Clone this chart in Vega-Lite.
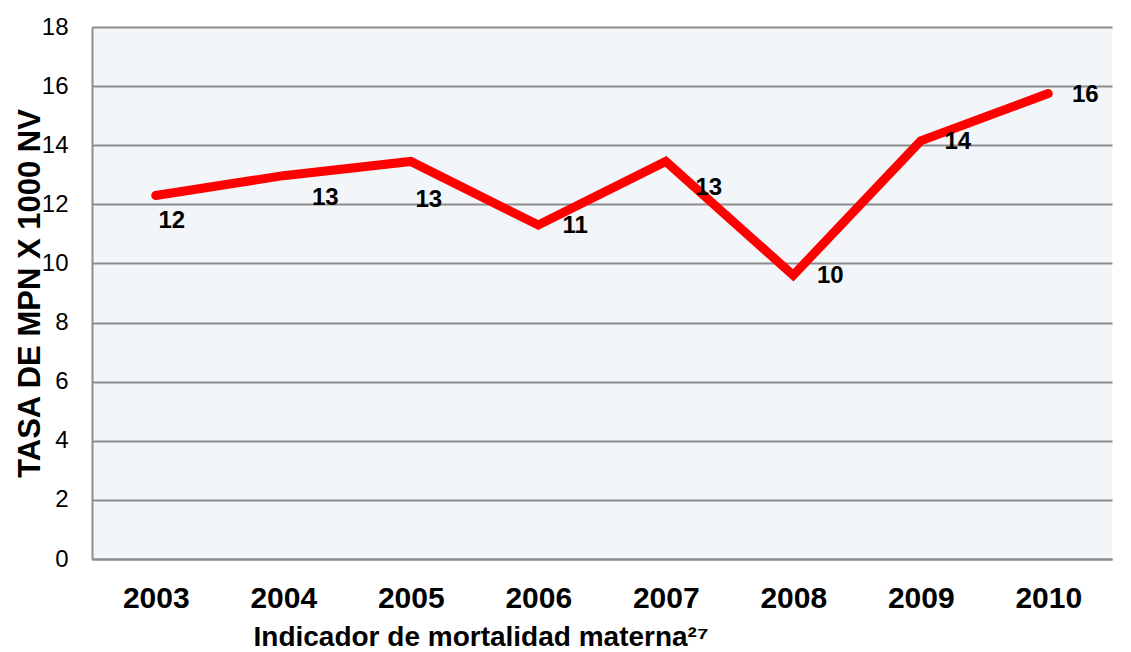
{
  "$schema": "https://vega.github.io/schema/vega-lite/v6.json",
  "width": 1020,
  "height": 532,
  "autosize": {"type": "none"},
  "padding": {"left": 92, "top": 27, "right": 19, "bottom": 93},
  "background": "white",
  "config": {
    "view": {"stroke": null, "fill": "#F2F6F9"},
    "font": "Liberation Sans"
  },
  "data": {
    "values": [
      {"anio": "2003", "tasa": 12.3},
      {"anio": "2004", "tasa": 12.97},
      {"anio": "2005", "tasa": 13.45},
      {"anio": "2006", "tasa": 11.3},
      {"anio": "2007", "tasa": 13.45},
      {"anio": "2008", "tasa": 9.6},
      {"anio": "2009", "tasa": 14.15},
      {"anio": "2010", "tasa": 15.75}
    ]
  },
  "encoding": {
    "x": {
      "field": "anio",
      "type": "ordinal",
      "scale": {"type": "point", "padding": 0.5},
      "axis": {
        "title": "Indicador de mortalidad materna²⁷",
        "labelAngle": 0,
        "labelFont": "Liberation Sans",
        "labelFontSize": 30,
        "labelFontWeight": "bold",
        "labelColor": "black",
        "labelBaseline": "alphabetic",
        "labelPadding": 48,
        "ticks": false,
        "tickSize": 0,
        "domainColor": "#8C8C8C",
        "domainWidth": 2,
        "grid": false,
        "titleX": 161,
        "titleY": 86,
        "titleAlign": "left",
        "titleAnchor": null,
        "titleBaseline": "alphabetic",
        "titleFont": "Liberation Sans",
        "titleFontSize": 28,
        "titleFontWeight": "bold",
        "titleColor": "black"
      }
    },
    "y": {
      "field": "tasa",
      "type": "quantitative",
      "scale": {"domain": [0, 18], "nice": false},
      "axis": {
        "title": "TASA DE MPN X 1000 NV",
        "values": [0, 2, 4, 6, 8, 10, 12, 14, 16, 18],
        "labelFont": "Liberation Sans",
        "labelFontSize": 24,
        "labelColor": "black",
        "labelPadding": 24,
        "labelFlush": false,
        "labelOverlap": false,
        "ticks": false,
        "tickSize": 0,
        "domainColor": "#8C8C8C",
        "domainWidth": 2,
        "gridColor": "#8C8C8C",
        "gridWidth": 2,
        "titleX": -62,
        "titleY": 266,
        "titleAngle": -90,
        "titleAlign": "center",
        "titleAnchor": null,
        "titleBaseline": "middle",
        "titleFont": "Liberation Sans",
        "titleFontSize": 31,
        "titleFontWeight": "bold",
        "titleColor": "black"
      }
    }
  },
  "layer": [
    {
      "mark": {"type": "line", "color": "#FF0000", "strokeWidth": 9, "strokeCap": "round", "strokeJoin": "miter"}
    },
    {
      "transform": [{"filter": "indexof(['2006','2008','2009','2010'], datum.anio) >= 0"}],
      "mark": {"type": "text", "font": "Liberation Sans", "fontSize": 24, "fontWeight": "bold", "align": "center", "baseline": "middle", "dx": 37, "dy": 1, "color": "black"},
      "encoding": {"text": {"field": "tasa", "type": "quantitative", "format": ".0f"}}
    },
    {
      "transform": [{"filter": "datum.anio == '2003'"}],
      "mark": {"type": "text", "font": "Liberation Sans", "fontSize": 24, "fontWeight": "bold", "align": "center", "baseline": "middle", "dx": 16, "dy": 26, "color": "black"},
      "encoding": {"text": {"field": "tasa", "type": "quantitative", "format": ".0f"}}
    },
    {
      "transform": [{"filter": "datum.anio == '2004'"}],
      "mark": {"type": "text", "font": "Liberation Sans", "fontSize": 24, "fontWeight": "bold", "align": "center", "baseline": "middle", "dx": 42, "dy": 22, "color": "black"},
      "encoding": {"text": {"field": "tasa", "type": "quantitative", "format": ".0f"}}
    },
    {
      "transform": [{"filter": "datum.anio == '2005'"}],
      "mark": {"type": "text", "font": "Liberation Sans", "fontSize": 24, "fontWeight": "bold", "align": "center", "baseline": "middle", "dx": 18, "dy": 39, "color": "black"},
      "encoding": {"text": {"field": "tasa", "type": "quantitative", "format": ".0f"}}
    },
    {
      "transform": [{"filter": "datum.anio == '2007'"}],
      "mark": {"type": "text", "font": "Liberation Sans", "fontSize": 24, "fontWeight": "bold", "align": "center", "baseline": "middle", "dx": 43, "dy": 27, "color": "black"},
      "encoding": {"text": {"field": "tasa", "type": "quantitative", "format": ".0f"}}
    }
  ]
}
